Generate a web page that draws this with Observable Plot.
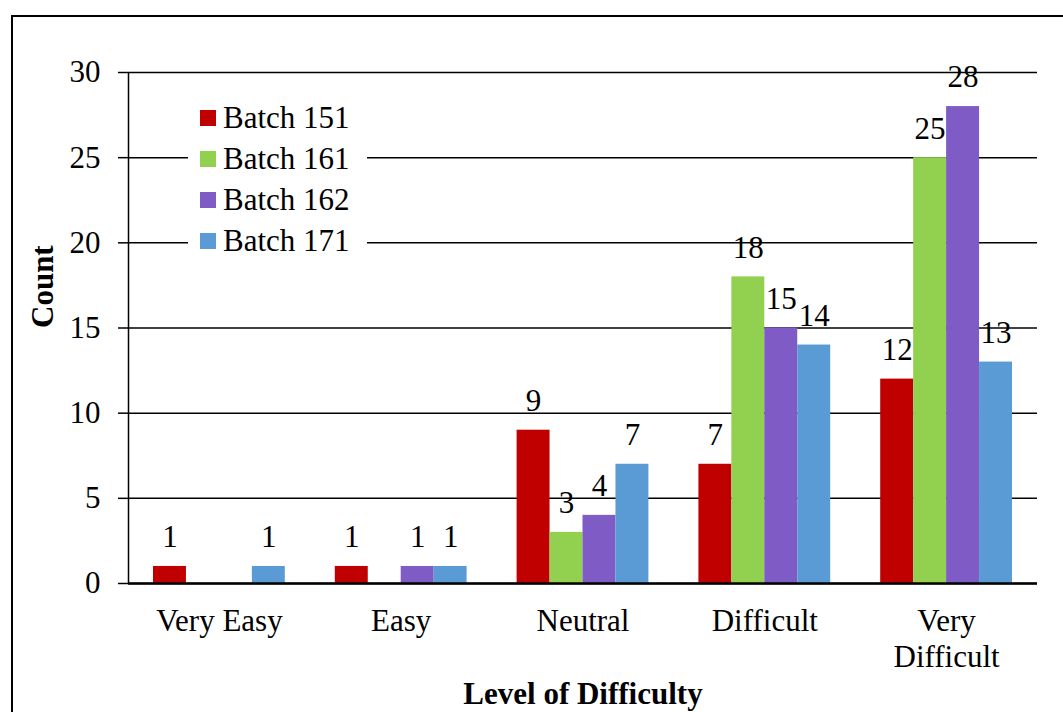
<!DOCTYPE html>
<html>
<head>
<meta charset="utf-8">
<script src="https://cdn.jsdelivr.net/npm/d3@7"></script>
<script src="https://cdn.jsdelivr.net/npm/@observablehq/plot@0.6"></script>
<style>
  html, body { margin: 0; padding: 0; background: #fff; }
  body { width: 1063px; height: 712px; position: relative; overflow: hidden; font-family: "Liberation Serif", "Times New Roman", serif; }
  #frame { position: absolute; left: 11px; top: 15px; width: 1100px; height: 800px; border-left: 2px solid #000; border-top: 2px solid #000; box-sizing: border-box; }
  #chart { position: absolute; left: 0; top: 0; }
  #legend { position: absolute; left: 188px; top: 97px; width: 179px; height: 165px; background: #fff; }
  .item { position: absolute; left: 12px; height: 41px; display: flex; align-items: center; font-size: 31px; color: #000; white-space: nowrap; font-family: "Liberation Serif", serif; }
  .sw { width: 16px; height: 16px; margin-right: 7px; display: inline-block; }
  #chart svg text { font-family: "Liberation Serif", serif; }
</style>
</head>
<body>
<div id="frame"></div>
<div id="chart"></div>
<div id="legend"></div>
<script>
const categories = ["Very Easy", "Easy", "Neutral", "Difficult", "Very\nDifficult"];
const batches = ["Batch 151", "Batch 161", "Batch 162", "Batch 171"];
const colors = ["#C00000", "#92D050", "#7F5BC6", "#5B9BD5"];
const batch151 = [1, 1, 9, 7, 12];
const batch161 = [0, 0, 3, 18, 25];
const batch162 = [0, 1, 4, 15, 28];
const batch171 = [1, 1, 7, 14, 13];
const yTicks = [0, 5, 10, 15, 20, 25, 30];

const series = [batch151, batch161, batch162, batch171];
const groupWidth = 0.725; // fraction of category step occupied by the bar group
const barW = groupWidth / batches.length;
const data = [];
categories.forEach((c, i) => {
  series.forEach((s, j) => {
    data.push({category: c, ci: i, batch: batches[j], bi: j, value: s[i]});
  });
});
const x1 = d => d.ci - groupWidth / 2 + d.bi * barW;
const x2 = d => d.ci - groupWidth / 2 + (d.bi + 1) * barW;
const xc = d => d.ci - groupWidth / 2 + (d.bi + 0.5) * barW;

const FONT = 31;
const plot = Plot.plot({
  width: 1063,
  height: 712,
  marginLeft: 128,
  marginRight: 26,
  marginTop: 72,
  marginBottom: 129,
  style: {fontFamily: "'Liberation Serif', serif", fontSize: FONT + "px", color: "#000", background: "transparent"},
  x: {domain: [-0.5, categories.length - 0.5], axis: null},
  y: {domain: [0, 30], axis: null},
  color: {domain: batches, range: colors},
  marks: [
    Plot.gridY(yTicks, {stroke: "#000", strokeOpacity: 1, strokeWidth: 1.5}),
    Plot.axisY(yTicks, {tickSize: 10, tickPadding: 18, fontSize: FONT, strokeWidth: 1.5, label: null}),
    Plot.rectY(data, {x1, x2, y1: 0, y2: "value", fill: "batch"}),
    Plot.ruleX([-0.5], {stroke: "#000", strokeWidth: 1.5}),
    Plot.ruleY([0], {stroke: "#000", strokeWidth: 2.5, x1: -0.5, x2: categories.length - 0.5}),
    Plot.text(data.filter(d => d.value > 0), {x: xc, y: "value", text: d => String(d.value), dy: -29, lineAnchor: "middle", fontSize: FONT, fill: "#000"}),
    Plot.text(categories, {x: (d, i) => i, frameAnchor: "bottom", text: d => d, lineAnchor: "top", dy: 22, lineHeight: 1.16, fontSize: FONT, fill: "#000"}),
    Plot.text(["Level of Difficulty"], {frameAnchor: "bottom", text: d => d, lineAnchor: "middle", dy: 111, fontSize: FONT, fontWeight: "bold", fill: "#000"}),
    Plot.text(["Count"], {frameAnchor: "left", text: d => d, rotate: -90, lineAnchor: "middle", dx: -85, fontSize: FONT, fontWeight: "bold", fill: "#000"})
  ]
});
document.getElementById("chart").appendChild(plot);

const legend = document.getElementById("legend");
batches.forEach((b, i) => {
  const item = document.createElement("div");
  item.className = "item";
  item.style.top = (i * 41) + "px";
  const sw = document.createElement("span");
  sw.className = "sw";
  sw.style.background = colors[i];
  item.appendChild(sw);
  item.appendChild(document.createTextNode(b));
  legend.appendChild(item);
});
</script>
</body>
</html>
